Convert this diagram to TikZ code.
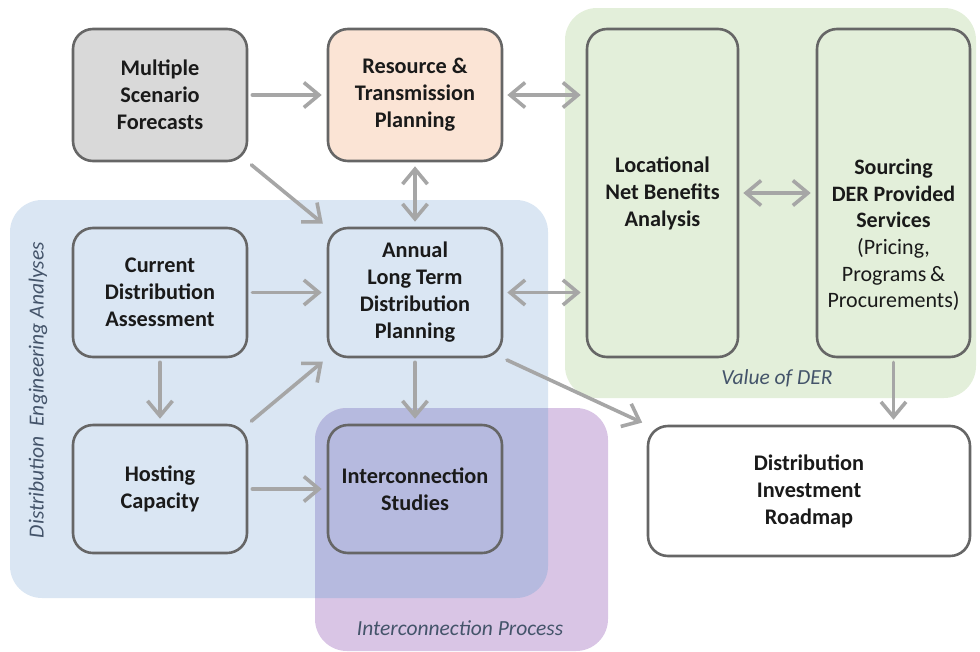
\documentclass[tikz,border=0pt]{standalone}
\usepackage{fontspec}
\setmainfont{Carlito}
\usetikzlibrary{arrows.meta}
\definecolor{boxline}{HTML}{666666}
\definecolor{arrgray}{HTML}{A6A6A6}
\definecolor{fcgray}{HTML}{D9D9D9}
\definecolor{rtpeach}{HTML}{FBE4D5}
\definecolor{zoneblue}{HTML}{DAE6F3}
\definecolor{zonegreen}{HTML}{E3EFDA}
\definecolor{zonepurple}{HTML}{D9C5E5}
\definecolor{zoneoverlap}{HTML}{B6BADF}
\definecolor{lblslate}{HTML}{44546A}
\definecolor{txtblack}{HTML}{1A1A1A}
\begin{document}
\begin{tikzpicture}[x=1pt,y=-1pt,>={Straight Barb[length=15pt,width=25pt]},line join=round,line cap=round,
	box/.style={draw=boxline,line width=2.6pt,rounded corners=20pt,align=center,inner sep=0pt,text=txtblack,font=\fontsize{22.3}{27}\selectfont\bfseries},
	zone/.style={rounded corners=32pt},
	flow/.style={draw=arrgray,line width=3.6pt,shorten >=5pt,shorten <=4pt},
	zonelabel/.style={text=lblslate,font=\fontsize{21.5}{26}\selectfont\itshape}]
		\useasboundingbox (0,0) rectangle (980,651);
		% shaded groups
		\fill[zoneblue,zone] (10,200) rectangle (548,598);
		\fill[zonegreen,zone] (565,8) rectangle (976,398);
		\fill[zonepurple,zone] (315,408) rectangle (608,651);
		\begin{scope}
			\clip[zone] (10,200) rectangle (548,598);
			\fill[zoneoverlap,zone] (315,408) rectangle (608,651);
		\end{scope}
		% boxes
		\node[box,fill=fcgray,minimum width=174pt,minimum height=132pt] (msf) at (160,95) {Multiple\\Scenario\\Forecasts};
		\node[box,fill=rtpeach,minimum width=174pt,minimum height=132pt] (rtp) at (415,95) {Resource \&\\Transmission\\Planning};
		\node[box,minimum width=151pt,minimum height=328pt] (lnb) at (662.5,193) {Locational\\Net Benefits\\Analysis};
		\node[box,minimum width=153pt,minimum height=328pt] (srv) at (893.5,193) {};
		\node[align=center,inner sep=0pt,text=txtblack,font=\fontsize{22}{26.6}\selectfont] (srvtxt) at (893.5,235) {\textbf{Sourcing}\\\textbf{DER Provided}\\\textbf{Services}\\(Pricing,\\Programs\,\&\\Procurements)};
		\node[box,minimum width=174pt,minimum height=129pt] (cda) at (160,292.5) {Current\\Distribution\\Assessment};
		\node[box,minimum width=174pt,minimum height=129pt] (altdp) at (415,292.5) {Annual\\Long Term\\Distribution\\Planning};
		\node[box,minimum width=174pt,minimum height=128pt] (hcap) at (160,489) {Hosting\\Capacity};
		\node[box,minimum width=174pt,minimum height=128pt] (ics) at (415,489) {Interconnection\\Studies};
		\node[box,fill=white,minimum width=322pt,minimum height=130pt] (dir) at (809,491) {Distribution\\Investment\\Roadmap};
		% group labels
		\node[zonelabel,rotate=90] (dealbl) at (38,390) {Distribution\ \ Engineering Analyses};
		\node[zonelabel] (derlbl) at (777,378) {Value of DER};
		\node[zonelabel] (iplbl) at (460,628) {Interconnection Process};
		% connectors
		\draw[flow,->] (msf.east) -- (rtp.west);
		\draw[flow,<->] (rtp.east) -- (rtp.east -| lnb.west);
		\draw[flow,->] (msf.south east) -- (altdp.north west);
		\draw[flow,<->] (rtp.south) -- (altdp.north);
		\draw[flow,->] (cda.east) -- (altdp.west);
		\draw[flow,<->] (altdp.east) -- (altdp.east -| lnb.west);
		\draw[flow,<->] (lnb.east) -- (srv.west);
		\draw[flow,->] (cda.south) -- (hcap.north);
		\draw[flow,->] (hcap.north east) -- (altdp.south west);
		\draw[flow,->] (altdp.south) -- (ics.north);
		\draw[flow,->] (hcap.east) -- (ics.west);
		\draw[flow,->] (altdp.south east) -- (dir.north west);
		\draw[flow,->] (srv.south) -- (srv.south |- dir.north);
	\end{tikzpicture}
\end{document}
